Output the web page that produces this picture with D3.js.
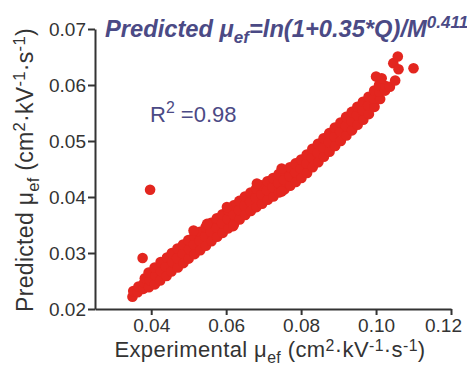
<!DOCTYPE html>
<html>
<head>
<meta charset="utf-8">
<script src="https://cdn.jsdelivr.net/npm/d3@7"></script>
<style>
  body { margin: 0; background: #fff; }
  text { font-family: "Liberation Sans", Arial, sans-serif; }
</style>
</head>
<body>
<svg id="chart" width="467" height="367"></svg>
<script>
const xTicks = [0.04, 0.06, 0.08, 0.10, 0.12];
const yTicks = [0.02, 0.03, 0.04, 0.05, 0.06, 0.07];

// [experimental, predicted]
const points = [
  [0.0350,0.0222],[0.0352,0.0232],
  [0.0364,0.0230],[0.0366,0.0240],
  [0.0379,0.0236],[0.0381,0.0247],[0.0383,0.0255],
  [0.0394,0.0239],[0.0396,0.0252],[0.0393,0.0265],
  [0.0410,0.0244],[0.0411,0.0260],[0.0409,0.0274],
  [0.0424,0.0251],[0.0426,0.0268],[0.0425,0.0284],
  [0.0441,0.0259],[0.0439,0.0276],[0.0442,0.0292],
  [0.0454,0.0267],[0.0456,0.0284],[0.0455,0.0300],
  [0.0471,0.0274],[0.0469,0.0291],[0.0470,0.0308],
  [0.0486,0.0282],[0.0484,0.0299],[0.0485,0.0315],
  [0.0500,0.0290],[0.0501,0.0307],[0.0499,0.0323],
  [0.0516,0.0298],[0.0514,0.0315],[0.0515,0.0331],
  [0.0531,0.0305],[0.0529,0.0322],[0.0530,0.0338],
  [0.0546,0.0313],[0.0544,0.0330],[0.0545,0.0346],
  [0.0561,0.0321],[0.0559,0.0338],[0.0560,0.0354],
  [0.0576,0.0329],[0.0574,0.0346],[0.0575,0.0362],
  [0.0591,0.0336],[0.0589,0.0353],[0.0590,0.0369],
  [0.0606,0.0344],[0.0604,0.0361],[0.0605,0.0377],
  [0.0621,0.0352],[0.0619,0.0369],[0.0620,0.0385],
  [0.0636,0.0360],[0.0634,0.0377],[0.0635,0.0393],
  [0.0651,0.0368],[0.0649,0.0385],[0.0650,0.0401],
  [0.0666,0.0375],[0.0664,0.0392],[0.0665,0.0408],
  [0.0681,0.0382],[0.0679,0.0399],[0.0680,0.0415],
  [0.0696,0.0388],[0.0694,0.0405],[0.0695,0.0421],
  [0.0711,0.0395],[0.0709,0.0412],[0.0710,0.0428],
  [0.0726,0.0401],[0.0724,0.0418],[0.0725,0.0434],
  [0.0741,0.0408],[0.0739,0.0425],[0.0740,0.0441],
  [0.0756,0.0414],[0.0754,0.0431],[0.0755,0.0447],
  [0.0771,0.0420],[0.0769,0.0437],[0.0770,0.0453],
  [0.0786,0.0427],[0.0784,0.0444],[0.0785,0.0460],
  [0.0801,0.0434],[0.0799,0.0451],[0.0800,0.0467],
  [0.0816,0.0443],[0.0814,0.0460],[0.0815,0.0476],
  [0.0831,0.0453],[0.0829,0.0470],[0.0830,0.0486],
  [0.0846,0.0462],[0.0844,0.0479],[0.0845,0.0495],
  [0.0861,0.0472],[0.0859,0.0489],[0.0860,0.0505],
  [0.0876,0.0481],[0.0874,0.0498],[0.0875,0.0514],
  [0.0891,0.0491],[0.0889,0.0508],[0.0890,0.0524],
  [0.0906,0.0500],[0.0904,0.0517],[0.0905,0.0533],
  [0.0921,0.0510],[0.0919,0.0527],[0.0920,0.0543],
  [0.0936,0.0519],[0.0934,0.0536],[0.0935,0.0552],
  [0.0951,0.0529],[0.0949,0.0546],[0.0950,0.0561],
  [0.0966,0.0538],[0.0964,0.0555],[0.0965,0.0570],
  [0.0981,0.0548],[0.0979,0.0564],[0.0980,0.0579],
  [0.0996,0.0561],[0.0994,0.0576],[0.0995,0.0590],
  [0.1011,0.0575],[0.1009,0.0588],[0.1008,0.0600],
  [0.1024,0.0590],[0.1026,0.0598],
  // bumps on the band edges
  [0.0513,0.0340],[0.0549,0.0352],[0.0602,0.0382],[0.0682,0.0424],
  [0.0748,0.0451],[0.0619,0.0348],[0.0748,0.0410],
  // top cluster
  [0.1000,0.0615],[0.1015,0.0612],[0.1037,0.0597],[0.1051,0.0608],
  [0.1046,0.0639],[0.1058,0.0651],[0.1060,0.0628],[0.1100,0.0630]
];
const outliers = [[0.0397,0.0413],[0.0377,0.0291]];

const svg = d3.select("#chart");

const x = d3.scaleLinear().domain([0.025, 0.12]).range([95, 451]);
const y = d3.scaleLinear().domain([0.02, 0.07]).range([309, 29]);

const red = "#e3261f";
const ink = "#333333";
const purple = "#4b4a85";

svg.append("g")
  .selectAll("circle")
  .data(points.concat(outliers))
  .join("circle")
    .attr("cx", d => x(d[0]))
    .attr("cy", d => y(d[1]))
    .attr("r", 5.3)
    .attr("fill", red);

const xAxis = svg.append("g")
  .attr("transform", "translate(0,309)")
  .call(d3.axisBottom(x).tickValues(xTicks).tickFormat(d3.format(".2f"))
    .tickSize(6).tickSizeOuter(0).tickPadding(4));

const yAxis = svg.append("g")
  .attr("transform", "translate(95,0)")
  .call(d3.axisLeft(y).tickValues(yTicks).tickFormat(d3.format(".2f"))
    .tickSize(7).tickSizeOuter(0).tickPadding(2));

[xAxis, yAxis].forEach(g => {
  g.select(".domain").attr("stroke", ink).attr("stroke-width", 2);
  g.selectAll(".tick line").attr("stroke", ink).attr("stroke-width", 2);
  g.selectAll(".tick text").attr("fill", ink).attr("font-size", 19)
    .attr("font-family", "Liberation Sans, Arial, sans-serif");
});
// last x label sits a little left of its tick so it stays inside
xAxis.selectAll(".tick text").filter(d => d === 0.12).attr("dx", -8);

// helper for text with sub/superscripts
function rich(sel, parts, size, up = 0.4) {
  let shift = 0;
  parts.forEach(p => {
    const target = p.s === "sup" ? -up * size : p.s === "sub" ? 0.25 * size : 0;
    const t = sel.append("tspan").text(p.t).attr("dy", target - shift);
    if (p.s) t.attr("font-size", size * 0.72);
    shift = target;
  });
}

const unitParts = [
  {t: " (cm"}, {t: "2", s: "sup"},
  {t: "·kV"}, {t: "-1", s: "sup"}, {t: "·s"}, {t: "-1", s: "sup"}, {t: ")"}
];

// x label
const xl = svg.append("text")
  .attr("x", 270).attr("y", 357)
  .attr("text-anchor", "middle")
  .attr("font-size", 22).attr("letter-spacing", 0.4).attr("fill", ink);
rich(xl, [{t: "Experimental μ"}, {t: "ef", s: "sub"}].concat(unitParts), 22, 0.26);

// y label
const yl = svg.append("text")
  .attr("transform", "translate(33,170) rotate(-90)")
  .attr("text-anchor", "middle")
  .attr("font-size", 23).attr("letter-spacing", 0.3).attr("fill", ink);
rich(yl, [{t: "Predicted μ"}, {t: "ef", s: "sub"}].concat(unitParts), 23, 0.34);

// title formula
const title = svg.append("text")
  .attr("x", 105).attr("y", 37)
  .attr("font-size", 23.7).attr("font-weight", "bold").attr("font-style", "italic")
  .attr("fill", purple);
rich(title, [
  {t: "Predicted μ"}, {t: "ef", s: "sub"}, {t: "=ln(1+0.35*Q)/M"}, {t: "0.411", s: "sup"}
], 23.7);

// R squared
const r2 = svg.append("text")
  .attr("x", 150).attr("y", 122)
  .attr("font-size", 22).attr("fill", purple);
rich(r2, [{t: "R"}, {t: "2", s: "sup"}, {t: " =0.98"}], 22);
</script>
</body>
</html>
